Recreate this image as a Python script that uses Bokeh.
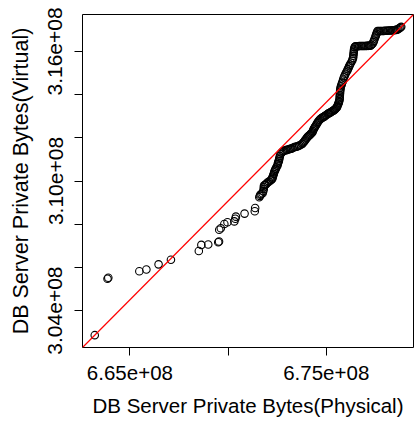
from bokeh.plotting import figure
from bokeh.models import Range1d, FixedTicker, Slope
from bokeh.embed import file_html
from bokeh.resources import INLINE

# Data (values in millions of bytes)
physical = [
    663.21, 663.86, 663.90, 665.48, 665.84, 666.46, 667.09, 668.51, 668.64, 668.99,
    669.50, 669.54, 669.55, 669.63, 669.81, 669.97, 670.32, 670.37, 670.40, 670.84,
    671.36, 671.38, 671.59, 671.65, 671.76, 671.82, 671.83, 671.91, 672.01, 672.16,
    672.25, 672.27, 672.33, 672.37, 672.42, 672.51, 672.55, 672.59, 672.62, 672.67,
    672.78, 672.88, 673.01, 673.13, 673.23, 673.35, 673.49, 673.62, 673.78, 673.87,
    673.95, 674.03, 674.12, 674.20, 674.29, 674.35, 674.40, 674.46, 674.54, 674.63,
    674.71, 674.81, 674.89, 674.96, 675.07, 675.14, 675.22, 675.32, 675.40, 675.47,
    675.55, 675.60, 675.64, 675.68, 675.69, 675.70, 675.71, 675.73, 675.78, 675.83,
    675.90, 675.98, 676.07, 676.14, 676.21, 676.32, 676.37, 676.39, 676.41, 676.44,
    676.49, 676.62, 676.75, 676.87, 677.00, 677.13, 677.26, 677.36, 677.43, 677.51,
    677.56, 677.61, 677.74, 677.87, 677.99, 678.12, 678.25, 678.38, 678.50, 678.62,
    678.73, 678.82,
    671.62, 671.70, 671.79, 671.82, 671.87, 671.96, 672.08, 672.20, 672.26, 672.30,
    672.35, 672.40, 672.46, 672.53, 672.57, 672.60, 672.64, 672.72, 672.83, 672.95,
    673.07, 673.18, 673.29, 673.42, 673.55, 673.70, 673.82, 673.91, 673.99, 674.07,
    674.16, 674.24, 674.32, 674.37, 674.43, 674.50, 674.58, 674.67, 674.76, 674.85,
    674.92, 675.01, 675.10, 675.18, 675.27, 675.36, 675.43, 675.51, 675.57, 675.62,
    675.66, 675.685, 675.695, 675.705, 675.72, 675.75, 675.80, 675.86, 675.94, 676.02,
    676.10, 676.17, 676.26, 676.34, 676.38, 676.40, 676.42, 676.46, 676.55, 676.68,
    676.81, 676.93, 677.06, 677.19, 677.31, 677.40, 677.47, 677.53, 677.58, 677.67,
    677.80, 677.93, 678.05, 678.18, 678.31, 678.44, 678.56, 678.67, 678.78,
]
virtual = [
    302.86, 305.47, 305.52, 305.82, 305.90, 306.14, 306.35, 306.76, 307.04, 307.06,
    307.16, 307.20, 307.74, 307.81, 308.01, 308.09, 308.13, 308.25, 308.35, 308.49,
    308.60, 308.75, 309.25, 309.37, 309.43, 309.63, 309.79, 309.83, 309.93, 310.02,
    310.10, 310.20, 310.33, 310.46, 310.56, 310.71, 310.85, 310.94, 311.08, 311.25,
    311.36, 311.41, 311.44, 311.48, 311.50, 311.56, 311.59, 311.64, 311.72, 311.82,
    311.92, 312.02, 312.10, 312.17, 312.25, 312.38, 312.47, 312.56, 312.68, 312.80,
    312.88, 312.94, 312.98, 313.03, 313.10, 313.14, 313.18, 313.24, 313.28, 313.34,
    313.42, 313.54, 313.64, 313.77, 313.91, 314.05, 314.19, 314.32, 314.46, 314.60,
    314.80, 314.97, 315.11, 315.25, 315.39, 315.57, 315.71, 315.88, 316.04, 316.18,
    316.24, 316.24, 316.25, 316.25, 316.25, 316.26, 316.27, 316.36, 316.50, 316.69,
    316.82, 316.94, 316.95, 316.95, 316.96, 316.96, 316.97, 316.98, 316.99, 317.01,
    317.08, 317.14,
    309.31, 309.40, 309.53, 309.71, 309.81, 309.88, 309.97, 310.06, 310.15, 310.26,
    310.40, 310.51, 310.63, 310.78, 310.90, 311.01, 311.16, 311.31, 311.39, 311.43,
    311.46, 311.49, 311.53, 311.58, 311.61, 311.68, 311.77, 311.87, 311.97, 312.06,
    312.13, 312.21, 312.31, 312.42, 312.51, 312.62, 312.74, 312.84, 312.91, 312.96,
    313.00, 313.06, 313.12, 313.16, 313.21, 313.26, 313.31, 313.38, 313.48, 313.59,
    313.70, 313.84, 313.98, 314.12, 314.25, 314.39, 314.53, 314.70, 314.88, 315.04,
    315.18, 315.32, 315.48, 315.64, 315.80, 315.96, 316.11, 316.21, 316.24, 316.25,
    316.25, 316.25, 316.26, 316.27, 316.31, 316.43, 316.60, 316.75, 316.88, 316.94,
    316.95, 316.95, 316.96, 316.97, 316.97, 316.98, 317.00, 317.04, 317.11,
]

x_ticks = [665, 670, 675]
x_tick_labels = ["6.65e+08", "", "6.75e+08"]
y_ticks = [304, 306, 308, 310, 312, 314, 316]
y_tick_labels = ["3.04e+08", "", "", "3.10e+08", "", "", "3.16e+08"]

x_title = "DB Server Private Bytes(Physical)"
y_title = "DB Server Private Bytes(Virtual)"

# Q-Q pairing: both samples sorted
qx = sorted(physical)
qy = sorted(virtual)

xmin, xmax = qx[0], qx[-1]
ymin, ymax = qy[0], qy[-1]
dx = 0.04 * (xmax - xmin)
dy = 0.04 * (ymax - ymin)

p = figure(
    output_backend="svg", toolbar_location=None,
    frame_width=331, frame_height=333,
    min_border_left=82, min_border_right=2, min_border_top=14, min_border_bottom=76,
    x_range=Range1d(xmin - dx, xmax + dx), y_range=Range1d(ymin - dy, ymax + dy),
    background_fill_color="white", border_fill_color="white",
)
p.grid.visible = False
p.outline_line_color = "black"
p.outline_line_width = 1
p.outline_line_alpha = 1

FONT = "Liberation Sans"
for ax in (p.xaxis[0], p.yaxis[0]):
    ax.axis_line_color = None
    ax.major_tick_line_color = "black"
    ax.major_tick_out = 8
    ax.major_tick_in = 0
    ax.minor_tick_line_color = None
    ax.major_label_text_font = FONT
    ax.major_label_text_color = "black"
    ax.axis_label_text_font = FONT
    ax.axis_label_text_font_style = "normal"
    ax.axis_label_text_color = "black"

p.xaxis[0].ticker = FixedTicker(ticks=x_ticks)
p.xaxis[0].major_label_overrides = {t: l for t, l in zip(x_ticks, x_tick_labels)}
p.xaxis[0].major_label_text_font_size = "20.5px"
p.xaxis[0].major_label_standoff = 10
p.xaxis[0].axis_label = x_title
p.xaxis[0].axis_label_text_font_size = "20.5px"
p.xaxis[0].axis_label_standoff = 11

p.yaxis[0].ticker = FixedTicker(ticks=y_ticks)
p.yaxis[0].major_label_overrides = {t: l for t, l in zip(y_ticks, y_tick_labels)}
p.yaxis[0].major_label_orientation = "vertical"
p.yaxis[0].major_label_text_font_size = "21px"
p.yaxis[0].major_label_standoff = 12
p.yaxis[0].axis_label = y_title
p.yaxis[0].axis_label_text_font_size = "21.5px"
p.yaxis[0].axis_label_standoff = 13

# reference line through the extreme quantiles
grad = (ymax - ymin) / (xmax - xmin)
p.add_layout(Slope(gradient=grad, y_intercept=ymin - grad * xmin,
                   line_color="red", line_width=1.2))

p.scatter(qx, qy, marker="circle", size=7.5, fill_color=None,
          line_color="black", line_width=1.1)

open("out.html", "w").write(file_html(p, INLINE))
